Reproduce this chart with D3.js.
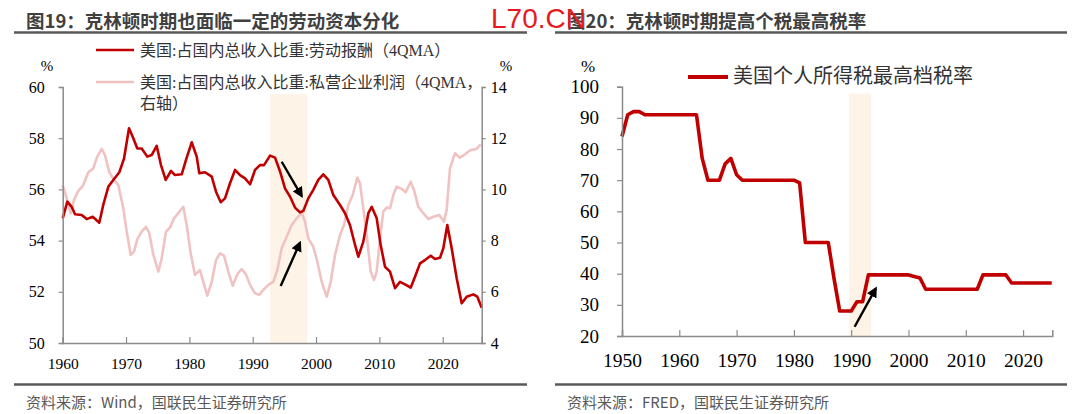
<!DOCTYPE html>
<html>
<head>
<meta charset="utf-8">
<script src="https://cdn.jsdelivr.net/npm/d3@7"></script>
<style>
  body { margin: 0; background: #fff; }
  svg { display: block; }
  .serif { font-family: 'Liberation Serif', 'Times New Roman', 'Noto Sans CJK SC', serif; }
</style>
</head>
<body>
<div id="chart"></div>
<script>
// ---- data ----
// left chart: labour share of GDI, 4Q moving avg (left axis, %)
const laborYears = [1960.0, 1960.73, 1961.42, 1961.94, 1963.0, 1963.79, 1964.74, 1965.78, 1966.41, 1967.2, 1967.99, 1968.94, 1969.68, 1970.47, 1971.15, 1971.78, 1972.47, 1973.36, 1974.05, 1974.84, 1975.52, 1976.26, 1977.1, 1977.73, 1978.79, 1979.47, 1980.37, 1981.16, 1981.57, 1982.47, 1983.53, 1984.21, 1984.95, 1985.63, 1986.42, 1987.21, 1988.0, 1988.79, 1989.58, 1990.37, 1991.15, 1991.79, 1992.74, 1993.53, 1994.32, 1995.1, 1995.89, 1996.68, 1997.47, 1997.99, 1998.78, 1999.57, 2000.36, 2001.15, 2001.94, 2002.73, 2003.79, 2004.58, 2005.37, 2006.16, 2006.68, 2007.47, 2008.26, 2008.79, 2009.58, 2010.21, 2010.89, 2011.68, 2012.47, 2013.26, 2014.05, 2014.95, 2015.63, 2016.42, 2017.21, 2018.11, 2018.79, 2019.58, 2020.1, 2020.73, 2021.42, 2022.21, 2023.0, 2023.79, 2024.84, 2025.47, 2026.16]
const laborValues = [54.87, 55.52, 55.32, 55.03, 55.0, 54.84, 54.93, 54.7, 55.4, 56.1, 56.37, 56.67, 57.2, 58.39, 58.0, 57.6, 57.6, 57.28, 57.34, 57.7, 56.95, 56.37, 56.72, 56.56, 56.59, 57.15, 57.84, 57.28, 56.63, 56.67, 56.5, 55.91, 55.5, 55.65, 56.24, 56.76, 56.56, 56.43, 56.2, 56.76, 56.95, 56.95, 57.32, 57.24, 56.7, 56.04, 55.72, 55.29, 55.1, 55.16, 55.65, 55.98, 56.37, 56.59, 56.37, 55.78, 55.39, 55.07, 54.6, 53.83, 53.37, 53.96, 55.07, 55.32, 54.87, 53.83, 52.98, 52.79, 52.14, 52.39, 52.29, 52.16, 52.59, 53.11, 53.24, 53.41, 53.28, 53.33, 53.7, 54.61, 53.7, 52.53, 51.55, 51.81, 51.9, 51.81, 51.38]

// left chart: private business profit share, 4Q moving avg (right axis, %)
const profitYears = [1960.0, 1960.63, 1961.26, 1961.78, 1962.46, 1963.25, 1964.04, 1964.83, 1965.46, 1966.16, 1966.68, 1967.36, 1968.1, 1968.78, 1969.57, 1970.11, 1970.74, 1971.26, 1971.78, 1972.47, 1973.15, 1973.67, 1974.31, 1975.1, 1975.63, 1976.31, 1976.94, 1977.57, 1978.25, 1979.04, 1979.58, 1980.21, 1980.89, 1981.68, 1982.2, 1982.83, 1983.53, 1984.21, 1984.84, 1985.47, 1986.15, 1986.84, 1987.57, 1988.26, 1988.94, 1989.58, 1990.37, 1991.04, 1991.68, 1992.47, 1993.25, 1993.89, 1994.58, 1995.37, 1996.16, 1996.95, 1997.74, 1998.26, 1998.78, 1999.57, 2000.2, 2000.9, 2001.69, 2002.32, 2003.0, 2003.79, 2004.42, 2005.1, 2005.79, 2006.52, 2006.94, 2007.47, 2008.0, 2008.63, 2009.16, 2009.58, 2010.1, 2010.62, 2011.16, 2011.68, 2012.2, 2012.74, 2013.53, 2014.16, 2014.95, 2015.47, 2016.15, 2016.94, 2017.73, 2018.52, 2019.47, 2020.21, 2020.63, 2021.15, 2021.94, 2022.73, 2023.52, 2024.42, 2025.37, 2026.0]
const profitValues = [10.17, 9.65, 9.07, 9.59, 9.94, 10.17, 10.67, 10.82, 11.28, 11.58, 11.34, 10.67, 10.37, 10.17, 9.26, 8.35, 7.44, 7.57, 8.06, 8.35, 8.54, 8.29, 7.44, 6.79, 7.31, 8.35, 8.5, 8.87, 9.07, 9.32, 8.61, 7.5, 6.66, 6.85, 6.39, 5.85, 6.39, 7.24, 7.5, 7.41, 6.79, 6.24, 6.68, 6.89, 6.68, 6.27, 5.94, 5.88, 6.07, 6.27, 6.39, 6.85, 7.7, 8.15, 8.61, 8.87, 9.09, 8.74, 8.09, 7.76, 7.18, 6.39, 5.81, 6.39, 7.44, 8.22, 8.61, 9.39, 9.78, 10.46, 10.24, 9.26, 8.22, 6.79, 6.46, 6.79, 8.09, 9.13, 9.29, 9.26, 9.78, 10.11, 10.02, 9.89, 10.3, 9.98, 9.32, 9.07, 8.84, 8.93, 9.0, 8.74, 9.2, 10.82, 11.41, 11.24, 11.37, 11.54, 11.58, 11.76]

// right chart: US top marginal income tax rate (%)
const taxYears = [1950, 1951, 1952, 1953, 1954, 1963, 1964, 1965, 1967, 1968, 1969, 1970, 1971, 1980, 1981, 1982, 1986, 1987, 1988, 1990, 1991, 1992, 1993, 2000, 2001, 2002, 2003, 2012, 2013, 2017, 2018, 2025]
const taxValues = [84, 91, 92, 92, 91, 91, 77, 70, 70, 75.25, 77, 71.75, 70, 70, 69.125, 50, 50, 38.5, 28, 28, 31, 31, 39.6, 39.6, 39.1, 38.6, 35, 35, 39.6, 39.6, 37, 37]

const leftYTicks = [50, 52, 54, 56, 58, 60]
const leftY2Ticks = [4, 6, 8, 10, 12, 14]
const leftXTicks = [1960, 1970, 1980, 1990, 2000, 2010, 2020]
const rightYTicks = [20, 30, 40, 50, 60, 70, 80, 90, 100]
const rightXTicks = [1950, 1960, 1970, 1980, 1990, 2000, 2010, 2020]

const clintonLeft = [1992.75, 1998.6]
const clintonRight = [1989.6, 1993.5]

const darkRed = '#c00000'
const pink = '#f0c2c2'
const axisGrey = '#8c8c8c'
const band = '#fdf3e6'

const svg = d3
  .select('#chart')
  .append('svg')
  .attr('width', 1080)
  .attr('height', 414)

svg.append('rect').attr('width', 1080).attr('height', 414).attr('fill', '#fff')

const defs = svg.append('defs')
defs.append('marker')
  .attr('id', 'head')
  .attr('viewBox', '0 0 10 10')
  .attr('refX', 8)
  .attr('refY', 5)
  .attr('markerWidth', 4.5)
  .attr('markerHeight', 4.5)
  .attr('markerUnits', 'strokeWidth')
  .attr('orient', 'auto')
  .append('path')
  .attr('d', 'M0,0 L10,5 L0,10 z')
  .attr('fill', '#000')

// ---- titles, rules, sources ----
function header(x0, x1, tx, title, source) {
  svg.append('text')
    .text(title)
    .attr('x', tx)
    .attr('y', 20)
    .attr('dominant-baseline', 'central')
    .attr('font-family', "'Noto Sans CJK SC', sans-serif")
    .attr('font-weight', 'bold')
    .attr('font-size', '18.5px')
    .attr('fill', '#404040')
  svg.append('line')
    .attr('x1', x0).attr('x2', x1).attr('y1', 32.5).attr('y2', 32.5)
    .attr('stroke', '#595959').attr('stroke-width', 2.5)
  svg.append('line')
    .attr('x1', x0).attr('x2', x1).attr('y1', 384.5).attr('y2', 384.5)
    .attr('stroke', '#595959').attr('stroke-width', 2.5)
  svg.append('text')
    .text(source)
    .attr('x', tx)
    .attr('y', 401)
    .attr('dominant-baseline', 'central')
    .attr('font-family', "'Noto Sans CJK SC', sans-serif")
    .attr('font-size', '15px')
    .attr('fill', '#595959')
}
header(14, 527, 26, '图19：克林顿时期也面临一定的劳动资本分化', '资料来源：Wind，国联民生证券研究所')
header(555, 1067, 567, '图20：克林顿时期提高个税最高税率', '资料来源：FRED，国联民生证券研究所')

// ================= left chart =================
const xL = d3.scaleLinear().domain([1960, 2026.16]).range([62.7, 481.7])
const yL = d3.scaleLinear().domain([50, 60]).range([343, 87])
const yR = d3.scaleLinear().domain([4, 14]).range([343, 87])

const gL = svg.append('g')

gL.append('rect')
  .attr('x', xL(clintonLeft[0]))
  .attr('width', xL(clintonLeft[1]) - xL(clintonLeft[0]))
  .attr('y', yL(59.72))
  .attr('height', yL(50) - yL(59.72))
  .attr('fill', band)

const lineLabor = d3.line().x((d, i) => xL(laborYears[i])).y(d => yL(d))
const lineProfit = d3.line().x((d, i) => xL(profitYears[i])).y(d => yR(d))

gL.append('path')
  .datum(profitValues)
  .attr('d', lineProfit)
  .attr('fill', 'none')
  .attr('stroke', pink)
  .attr('stroke-width', 2.6)
  .attr('stroke-linejoin', 'round')

gL.append('path')
  .datum(laborValues)
  .attr('d', lineLabor)
  .attr('fill', 'none')
  .attr('stroke', darkRed)
  .attr('stroke-width', 2.6)
  .attr('stroke-linejoin', 'round')

const axL = gL.append('g')
  .attr('class', 'serif')
  .attr('transform', 'translate(' + xL.range()[0] + ',0)')
  .call(d3.axisLeft(yL).tickValues(leftYTicks).tickSize(4).tickPadding(14))
const axR = gL.append('g')
  .attr('class', 'serif')
  .attr('transform', 'translate(' + xL.range()[1] + ',0)')
  .call(d3.axisRight(yR).tickValues(leftY2Ticks).tickSize(4).tickPadding(5))
const axB = gL.append('g')
  .attr('class', 'serif')
  .attr('transform', 'translate(0,' + yL(50) + ')')
  .call(d3.axisBottom(xL).tickValues(leftXTicks).tickFormat(d3.format('d')).tickSize(-6).tickPadding(15))

;[axL, axR, axB].forEach(a => {
  a.select('.domain').attr('stroke', axisGrey).attr('stroke-width', 1.5)
  a.selectAll('line').attr('stroke', axisGrey).attr('stroke-width', 1.2)
  a.selectAll('text').attr('font-size', '16px').attr('fill', '#000').attr('font-family', "'Liberation Serif', serif")
})
axB.selectAll('text').attr('font-size', '15.5px')

gL.append('text').attr('class', 'serif').text('%').attr('x', 47).attr('y', 66)
  .attr('text-anchor', 'middle').attr('dominant-baseline', 'central').attr('font-size', '15px')
gL.append('text').attr('class', 'serif').text('%').attr('x', 506).attr('y', 66)
  .attr('text-anchor', 'middle').attr('dominant-baseline', 'central').attr('font-size', '15px')

// legend
const legL = [
  { color: darkRed, lines: ['美国:占国内总收入比重:劳动报酬（4QMA）'], y: 50 },
  { color: pink, lines: ['美国:占国内总收入比重:私营企业利润（4QMA，', '右轴）'], y: 82 }
]
legL.forEach(d => {
  gL.append('line')
    .attr('x1', 96).attr('x2', 134).attr('y1', d.y).attr('y2', d.y)
    .attr('stroke', d.color).attr('stroke-width', 2.6)
  d.lines.forEach((t, i) => {
    gL.append('text')
      .attr('class', 'serif')
      .text(t)
      .attr('x', 140)
      .attr('y', d.y + i * 21)
      .attr('dominant-baseline', 'central')
      .attr('font-size', '16px')
      .attr('fill', '#333')
  })
})

// arrows
gL.append('line')
  .attr('x1', xL(1994.58)).attr('y1', yL(57.08))
  .attr('x2', xL(1997.74)).attr('y2', yL(55.74))
  .attr('stroke', '#000').attr('stroke-width', 2.4)
  .attr('marker-end', 'url(#head)')
gL.append('line')
  .attr('x1', xL(1994.42)).attr('y1', yR(6.23))
  .attr('x2', xL(1997.47)).attr('y2', yR(7.92))
  .attr('stroke', '#000').attr('stroke-width', 2.4)
  .attr('marker-end', 'url(#head)')

// ================= right chart =================
const xT = d3.scaleLinear().domain([1950, 2025.1]).range([622, 1052.3])
const yT = d3.scaleLinear().domain([20, 100]).range([336, 86.7])

const gR = svg.append('g')

gR.append('rect')
  .attr('x', xT(clintonRight[0]))
  .attr('width', xT(clintonRight[1]) - xT(clintonRight[0]))
  .attr('y', yT(97.8))
  .attr('height', yT(20) - yT(97.8))
  .attr('fill', band)

const lineTax = d3.line().x((d, i) => xT(taxYears[i])).y(d => yT(d))
gR.append('path')
  .datum(taxValues)
  .attr('d', lineTax)
  .attr('fill', 'none')
  .attr('stroke', darkRed)
  .attr('stroke-width', 3.6)
  .attr('stroke-linejoin', 'round')

const axTL = gR.append('g')
  .attr('transform', 'translate(' + xT.range()[0] + ',0)')
  .call(d3.axisLeft(yT).tickValues(rightYTicks).tickSize(5).tickPadding(18))
const axTB = gR.append('g')
  .attr('transform', 'translate(0,' + yT(20) + ')')
  .call(d3.axisBottom(xT).tickValues(rightXTicks).tickFormat(d3.format('d')).tickSize(-6).tickPadding(17))

;[axTL, axTB].forEach(a => {
  a.select('.domain').attr('stroke', axisGrey).attr('stroke-width', 1.5)
  a.selectAll('line').attr('stroke', axisGrey).attr('stroke-width', 1.2)
  a.selectAll('text').attr('font-size', '19px').attr('fill', '#000').attr('font-family', "'Liberation Serif', serif")
})
axTB.selectAll('text').attr('font-size', '19.5px')

gR.append('text').attr('class', 'serif').text('%').attr('x', 588).attr('y', 66)
  .attr('text-anchor', 'middle').attr('dominant-baseline', 'central').attr('font-size', '17px')

gR.append('line')
  .attr('x1', 688).attr('x2', 728).attr('y1', 77).attr('y2', 77)
  .attr('stroke', darkRed).attr('stroke-width', 4)
gR.append('text')
  .attr('class', 'serif')
  .text('美国个人所得税最高档税率')
  .attr('x', 733)
  .attr('y', 76)
  .attr('dominant-baseline', 'central')
  .attr('font-size', '20px')
  .attr('fill', '#333')

gR.append('line')
  .attr('x1', xT(1990.6)).attr('y1', yT(22.98))
  .attr('x2', xT(1994.3)).attr('y2', yT(35.3))
  .attr('stroke', '#000').attr('stroke-width', 2.4)
  .attr('marker-end', 'url(#head)')

// watermark sitting across both titles
svg.append('text')
  .text('L70.CN')
  .attr('x', 491)
  .attr('y', 28)
  .attr('font-family', "'Liberation Sans', Arial, sans-serif")
  .attr('font-size', '28px')
  .attr('fill', '#e8191c')
</script>
</body>
</html>
